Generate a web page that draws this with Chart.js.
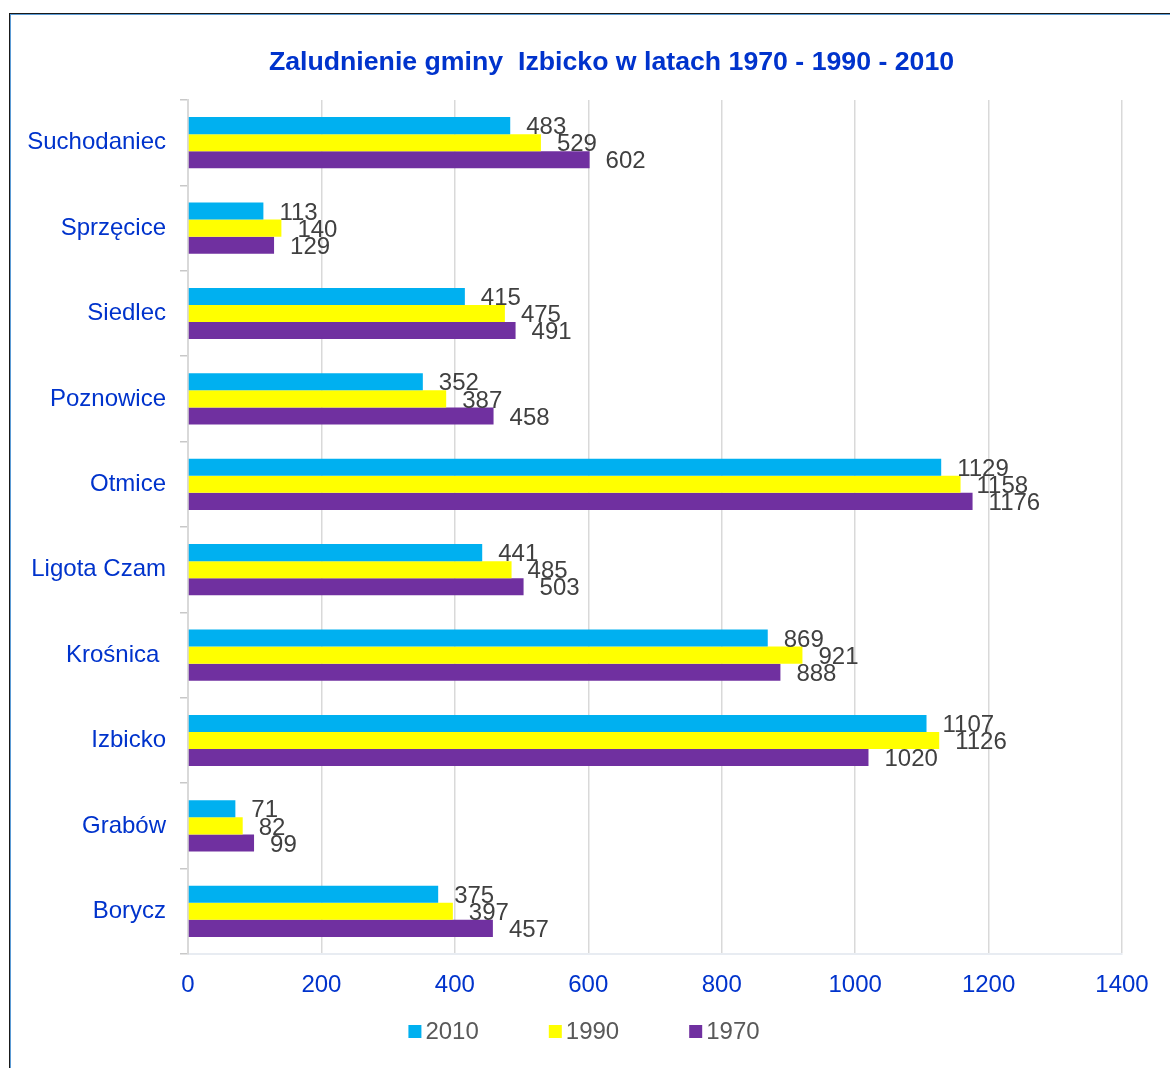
<!DOCTYPE html>
<html>
<head>
<meta charset="utf-8">
<script src="https://cdn.jsdelivr.net/npm/chart.js@4/dist/chart.umd.min.js"></script>
<style>
  body { margin: 0; background: #fff; overflow: hidden; }
  #wrap { position: absolute; left: 0; top: 0; width: 1170px; height: 1068px; }
  #frame {
    position: absolute; left: 9px; top: 13px; width: 1300px; height: 1200px;
    border: 1px solid #1a1a1a; box-shadow: inset 1px 1px 0 #5b9bd5;
    pointer-events: none;
  }
</style>
</head>
<body>
<div id="wrap">
  <canvas id="chart" width="1170" height="1068"></canvas>
  <div id="frame"></div>
</div>
<script>
// dane
const gminy = ['Suchodaniec', 'Sprzęcice', 'Siedlec', 'Poznowice', 'Otmice', 'Ligota Czam', 'Krośnica ', 'Izbicko', 'Grabów', 'Borycz'];
const lata = ['2010', '1990', '1970'];
const ludnosc2010 = [483, 113, 415, 352, 1129, 441, 869, 1107, 71, 375];
const ludnosc1990 = [529, 140, 475, 387, 1158, 485, 921, 1126, 82, 397];
const ludnosc1970 = [602, 129, 491, 458, 1176, 503, 888, 1020, 99, 457];
const osX = { min: 0, max: 1400, step: 200 };
const tytul = 'Zaludnienie gminy  Izbicko w latach 1970 - 1990 - 2010';

const kolory = ['#00B0F0', '#FFFF00', '#7030A0'];
const niebieski = '#0033CC';
const czcionka = '"Liberation Sans", Arial, sans-serif';

// tytul nad wykresem
const naglowek = {
    id: 'naglowek',
    afterDraw(chart) {
        const ctx = chart.ctx;
        ctx.save();
        ctx.font = 'bold 26.7px ' + czcionka;
        ctx.fillStyle = niebieski;
        ctx.textAlign = 'center';
        ctx.textBaseline = 'middle';
        ctx.fillText(tytul, 611.5, 63);
        ctx.restore();
    }
};

// etykiety wartosci za koncem slupka
const etykiety = {
    id: 'etykiety',
    afterDatasetsDraw(chart) {
        const ctx = chart.ctx;
        ctx.save();
        ctx.font = '24px ' + czcionka;
        ctx.fillStyle = '#404040';
        ctx.textAlign = 'left';
        ctx.textBaseline = 'middle';
        chart.data.datasets.forEach((ds, i) => {
            chart.getDatasetMeta(i).data.forEach((bar, j) => {
                ctx.fillText(String(ds.data[j]), bar.x + 16, bar.y + 2);
            });
        });
        ctx.restore();
    }
};

// legenda na dole
const legenda = {
    id: 'legenda',
    afterDraw(chart) {
        const ctx = chart.ctx;
        ctx.save();
        ctx.font = '24px ' + czcionka;
        ctx.textBaseline = 'middle';
        const box = 13, odstep = 4, przerwa = 70, y = 1032;
        const szer = chart.data.datasets.map(ds => box + odstep + ctx.measureText(ds.label).width);
        const razem = szer.reduce((a, b) => a + b, 0) + przerwa * (szer.length - 1);
        let x = 584 - razem / 2;
        chart.data.datasets.forEach((ds, i) => {
            ctx.fillStyle = ds.backgroundColor;
            ctx.fillRect(x, y - 7, box, box);
            ctx.fillStyle = '#595959';
            ctx.fillText(ds.label, x + box + odstep, y);
            x += szer[i] + przerwa;
        });
        ctx.restore();
    }
};

new Chart(document.getElementById('chart'), {
    type: 'bar',
    data: {
        labels: gminy,
        datasets: [
            { label: lata[0], data: ludnosc2010, backgroundColor: kolory[0] },
            { label: lata[1], data: ludnosc1990, backgroundColor: kolory[1] },
            { label: lata[2], data: ludnosc1970, backgroundColor: kolory[2] }
        ]
    },
    options: {
        indexAxis: 'y',
        responsive: false,
        animation: false,
        layout: { padding: { left: 12, right: 48, top: 100, bottom: 0 } },
        datasets: { bar: { categoryPercentage: 0.6, barPercentage: 1 } },
        plugins: {
            legend: { display: false },
            tooltip: { enabled: false },
            title: { display: false }
        },
        scales: {
            x: {
                min: osX.min,
                max: osX.max,
                ticks: {
                    stepSize: osX.step,
                    color: niebieski,
                    font: { family: czcionka, size: 24 },
                    padding: 17,
                    callback: v => String(v)
                },
                grid: { color: '#d9d9d9', lineWidth: 1.5, drawTicks: false },
                border: { color: '#e8ecf2', width: 2 },
                afterFit(s) { s.height = 114; }
            },
            y: {
                ticks: { color: niebieski, font: { family: czcionka, size: 24 }, padding: 14 },
                grid: { drawOnChartArea: false, drawTicks: true, tickLength: 8, color: '#c8c8c8', lineWidth: 1.5 },
                border: { color: '#d9d9d9', width: 2 },
                afterFit(s) { s.width = 176; }
            }
        }
    },
    plugins: [etykiety, naglowek, legenda]
});
</script>
</body>
</html>
